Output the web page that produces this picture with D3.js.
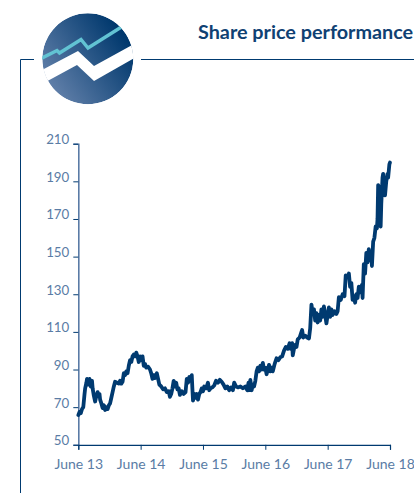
<!DOCTYPE html>
<meta charset="utf-8">
<title>Share price performance</title>
<script src="https://d3js.org/d3.v7.min.js"></script>
<style>
  html, body { margin: 0; padding: 0; background: #fff; overflow: hidden; }
  svg { display: block; font-family: Lato, sans-serif; }
</style>
<body>
</body>
<script>
  const width = 414, height = 493;

  const navy = "#003a70", steel = "#5a7ba6", labelBlue = "#5a7ca5";

  // years since June 13
  const years = [0, .02, .04, .06, .08, .10, .11, .13, .14, .16,
    .18, .20, .22, .23, .25, .27, .29, .31, .32, .34,
    .35, .37, .39, .41, .43, .45, .47, .49, .51, .53,
    .55, .57, .59, .62, .65, .67, .69, .71, .73, .75,
    .77, .79, .81, .83, .85, .87, .89, .91, .93, .95,
    .97, .99, 1.01, 1.03, 1.05, 1.07, 1.09, 1.12, 1.15, 1.17,
    1.19, 1.21, 1.23, 1.26, 1.28, 1.30, 1.33, 1.36, 1.39, 1.42,
    1.45, 1.47, 1.49, 1.51, 1.53, 1.55, 1.57, 1.59, 1.61, 1.63,
    1.66, 1.69, 1.72, 1.74, 1.76, 1.78, 1.80, 1.82, 1.83, 1.84,
    1.86, 1.88, 1.90, 1.92, 1.94, 1.96, 1.98, 2.00, 2.02, 2.05,
    2.08, 2.10, 2.12, 2.15, 2.18, 2.21, 2.24, 2.27, 2.30, 2.33,
    2.36, 2.39, 2.42, 2.45, 2.48, 2.50, 2.53, 2.56, 2.60, 2.64,
    2.68, 2.71, 2.73, 2.74, 2.76, 2.78, 2.80, 2.82, 2.84, 2.86,
    2.88, 2.90, 2.92, 2.94, 2.96, 2.98, 3.00, 3.02, 3.04, 3.06,
    3.08, 3.10, 3.12, 3.15, 3.18, 3.21, 3.24, 3.27, 3.30, 3.33,
    3.36, 3.39, 3.41, 3.43, 3.44, 3.46, 3.48, 3.50, 3.52, 3.55,
    3.58, 3.59, 3.61, 3.64, 3.67, 3.70, 3.72, 3.74, 3.76, 3.78,
    3.80, 3.82, 3.84, 3.86, 3.88, 3.90, 3.92, 3.94, 3.96, 3.98,
    4.00, 4.02, 4.04, 4.06, 4.08, 4.11, 4.14, 4.16, 4.18, 4.21,
    4.24, 4.27, 4.29, 4.32, 4.34, 4.36, 4.38, 4.40, 4.42, 4.44,
    4.46, 4.48, 4.50, 4.52, 4.55, 4.56, 4.58, 4.60, 4.62, 4.64,
    4.66, 4.68, 4.70, 4.71, 4.73, 4.75, 4.77, 4.79, 4.80, 4.81,
    4.82, 4.83, 4.85, 4.86, 4.88, 4.89, 4.90, 4.91, 4.92, 4.94,
    4.96, 4.97, 4.99, 5];
  const price = [65.8, 67.5, 66.8, 69, 70, 77, 80, 83, 85, 82,
    85, 81, 84, 80, 76, 73, 76, 78, 76, 77,
    74, 72, 69.5, 71, 68.5, 70, 69, 71, 72, 75,
    78, 81, 83.5, 83, 82.5, 84, 82.5, 83.5, 88, 87,
    89, 88, 92, 95, 94, 97, 98, 97, 99, 97,
    94, 97, 95, 97, 92, 93, 91, 91.5, 90, 88,
    85, 87, 85.5, 88, 85, 82, 81, 79.5, 80, 78,
    78.5, 75.5, 77, 80, 84, 81, 83, 79.5, 80, 76.5,
    78.5, 77, 78, 85, 83, 86, 84, 87, 80, 73.5,
    77, 75, 77, 74, 77, 78, 80, 78.5, 81, 80,
    83, 79, 80, 80.5, 81.5, 84, 83, 84.5, 83.5, 82,
    80, 81, 79, 80.5, 79, 83, 81, 80.5, 81, 80,
    81, 79, 83, 79, 84.5, 79, 82, 81, 84, 89,
    91, 89, 92, 90, 93.5, 90, 91, 87.5, 90, 92.5,
    89, 91, 89, 93, 96, 95, 96.5, 97, 100, 102,
    101, 104, 101, 104, 97.5, 101, 103, 102, 106, 107,
    110, 111, 107, 108, 107, 106.5, 112, 124.5, 120, 122,
    116, 120, 115, 119, 116, 122, 118, 123.5, 119, 114.5,
    119, 123, 118, 122, 119, 121, 119.5, 121, 128.5, 127,
    130, 129, 140, 139, 141, 134, 136, 127, 129, 125.5,
    130, 128, 134, 131, 135, 128, 146, 141, 152, 147,
    154, 148, 152, 145, 158, 160, 166, 165, 170, 188,
    187, 170, 166, 178, 192, 194, 186, 192, 182.5, 190,
    194, 192, 199, 200];

  const yTicks = [50, 70, 90, 110, 130, 150, 170, 190, 210];
  const xLabels = ["June 13", "June 14", "June 15", "June 16", "June 17", "June 18"];

  const x = d3.scaleLinear().domain([0, 5]).range([78.3, 390]);
  const y = d3.scaleLinear().domain([50, 210]).range([444.8, 143.7]);

  const svg = d3.select("body").append("svg").attr("width", width).attr("height", height);

  // frame round the panel
  svg.append("path")
    .attr("d", "M34,59.5H20.5V493")
    .attr("fill", "none").attr("stroke", navy).attr("stroke-width", 1);
  svg.append("line")
    .attr("x1", 141).attr("x2", width).attr("y1", 59.5).attr("y2", 59.5)
    .attr("stroke", navy).attr("stroke-width", 1);

  svg.append("text")
    .attr("x", 198).attr("y", 39)
    .attr("font-size", 19.8).attr("font-weight", 700).attr("fill", "#0f4173")
    .text("Share price performance");

  // round icon
  const defs = svg.append("defs");
  const grad = defs.append("linearGradient").attr("id", "disc")
    .attr("x1", "0.1").attr("y1", "0.8").attr("x2", "0.9").attr("y2", "0.25");
  grad.append("stop").attr("offset", 0).attr("stop-color", "#5f7ea8");
  grad.append("stop").attr("offset", 1).attr("stop-color", "#00386d");
  defs.append("clipPath").attr("id", "discClip")
    .append("circle").attr("cx", 87.8).attr("cy", 58.8).attr("r", 45.5);

  const icon = svg.append("g").attr("clip-path", "url(#discClip)");
  icon.append("circle").attr("cx", 87.8).attr("cy", 58.8).attr("r", 45.5).attr("fill", "url(#disc)");
  icon.append("path")
    .attr("d", "M38,72L78,51L94,66L136,43L136,57L94,81L77,65L42,84Z")
    .attr("fill", "#fff");
  icon.append("path")
    .attr("d", "M40,59L57,50.5L59.5,53L81,39.5L88,48L123,26")
    .attr("fill", "none").attr("stroke", "#62c3d3").attr("stroke-width", 3.4);

  // axes
  const yAxis = svg.append("g")
    .attr("transform", "translate(78.3,0)")
    .call(d3.axisLeft(y).tickValues(yTicks).tickSize(5).tickPadding(4));
  yAxis.select(".domain").attr("stroke", steel).attr("stroke-width", 1.6);
  yAxis.selectAll(".tick line").attr("stroke", navy).attr("stroke-width", 1);
  yAxis.selectAll(".tick text")
    .attr("dy", 0).attr("font-size", 13.3).attr("font-family", "Lato").attr("fill", labelBlue);

  const xAxis = svg.append("g")
    .attr("transform", "translate(0,444.8)")
    .call(d3.axisBottom(x).tickValues(d3.range(6)).tickFormat(i => xLabels[i]).tickSize(5).tickPadding(0));
  xAxis.select(".domain").attr("stroke", navy).attr("stroke-width", 1.2);
  xAxis.selectAll(".tick line").attr("stroke", navy).attr("stroke-width", 1);
  xAxis.selectAll(".tick text")
    .attr("y", 24).attr("dy", 0).attr("font-size", 14).attr("font-family", "Lato").attr("fill", labelBlue);

  const line = d3.line().x((d, i) => x(years[i])).y(d => y(d));

  svg.append("path")
    .datum(price)
    .attr("d", line)
    .attr("fill", "none")
    .attr("stroke", navy)
    .attr("stroke-width", 3.8)
    .attr("stroke-linejoin", "round")
    .attr("stroke-linecap", "round");
</script>
